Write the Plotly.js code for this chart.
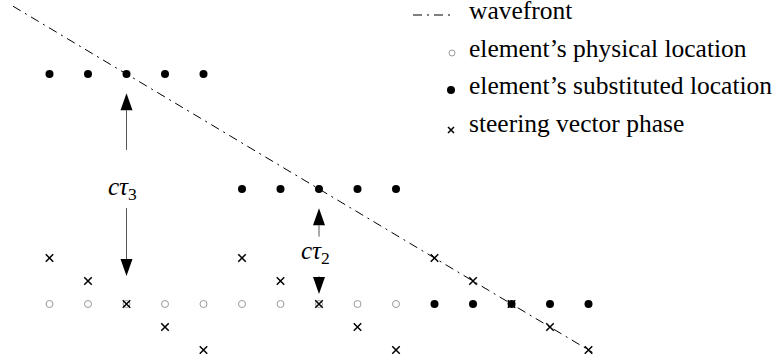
<!DOCTYPE html>
<html>
<head>
<meta charset="utf-8">
<script src="https://cdn.plot.ly/plotly-3.0.1.min.js"></script>
<style>html,body{margin:0;padding:0;background:#fff;}#chart{width:782px;height:362px;}</style>
</head>
<body>
<div id="chart"></div>
<script>
// ---- data (element index along the array, height in phase units) ----
var physX = [0, 1, 2, 3, 4, 5, 6, 7, 8, 9];
var physY = [0, 0, 0, 0, 0, 0, 0, 0, 0, 0];
var substX = [0, 1, 2, 3, 4, 5, 6, 7, 8, 9, 10, 11, 12, 13, 14];
var substY = [10, 10, 10, 10, 10, 5, 5, 5, 5, 5, 0, 0, 0, 0, 0];
var steerX = [0, 1, 2, 3, 4, 5, 6, 7, 8, 9, 10, 11, 12, 13, 14];
var steerY = [2, 1, 0, -1, -2, 2, 1, 0, -1, -2, 2, 1, 0, -1, -2];
var waveX = [-0.95, 14.1];
var waveY = [12.95, -2.1];
// delay arrows: x position, shaft start, arrow tip
var arrowX = [2, 2, 7, 7];
var arrowFrom = [6.7, 4.17, 2.93, 1.2];
var arrowTip = [9.16, 1.22, 4.16, 0.43];
var delayLabels = ['<i>cτ</i><sub>3</sub>', '<i>cτ</i><sub>2</sub>'];
var delayLabelX = [2, 7];
var delayLabelY = [5.04, 2.22];
var legendLabels = ['wavefront', 'element’s physical location', 'element’s substituted location', 'steering vector phase'];

var W = 782, H = 362;
var FONT = 'Liberation Serif';
var DASH = '9px,5px,2px,5px';

var traces = [
  {x: waveX, y: waveY, mode: 'lines', line: {color: '#000', width: 1, dash: DASH}, hoverinfo: 'skip'},
  {x: physX, y: physY, mode: 'markers', marker: {symbol: 'circle-open', size: 7, color: '#9a9a9a', line: {width: 1, color: '#9a9a9a'}}},
  {x: substX, y: substY, mode: 'markers', marker: {symbol: 'circle', size: 8, color: '#000'}},
  {x: steerX, y: steerY, mode: 'markers', marker: {symbol: 'x-thin', size: 7.5, color: '#000', line: {width: 1.5, color: '#000'}}}
];

var shapes = [];
var annotations = [];
var HEAD_L = 17, HEAD_W = 6;
for (var i = 0; i < arrowX.length; i++) {
  var up = arrowTip[i] > arrowFrom[i];
  var baseOff = HEAD_L / 23 * (up ? 1 : -1);
  var shaftEnd = arrowTip[i] - baseOff;
  if ((up && shaftEnd > arrowFrom[i]) || (!up && shaftEnd < arrowFrom[i])) {
    shapes.push({type: 'line', xref: 'x', yref: 'y', x0: arrowX[i], x1: arrowX[i], y0: arrowFrom[i], y1: shaftEnd,
      line: {color: '#555', width: 1}});
  }
  var s = up ? -1 : 1;
  shapes.push({type: 'path', xref: 'x', yref: 'y', xsizemode: 'pixel', ysizemode: 'pixel',
    xanchor: arrowX[i], yanchor: arrowTip[i],
    path: 'M0,0 L' + (-HEAD_W) + ',' + (s * HEAD_L) + ' L' + HEAD_W + ',' + (s * HEAD_L) + ' Z',
    fillcolor: '#000', line: {width: 0}});
}
for (var j = 0; j < delayLabels.length; j++) {
  annotations.push({x: delayLabelX[j], y: delayLabelY[j], xref: 'x', yref: 'y', text: delayLabels[j],
    showarrow: false, xshift: -4, font: {family: FONT, size: 25, color: '#000'}});
}

// ---- custom legend ----
function px(x) { return x / W; }
function py(y) { return 1 - y / H; }
var legTextY = [11, 48, 85, 123];
for (var k = 0; k < legendLabels.length; k++) {
  annotations.push({x: px(467), y: py(legTextY[k]), xref: 'paper', yref: 'paper', xanchor: 'left', yanchor: 'middle',
    text: legendLabels[k], showarrow: false, font: {family: FONT, size: 25.5, color: '#000'}});
}
shapes.push({type: 'line', xref: 'paper', yref: 'paper', x0: px(413), x1: px(455), y0: py(15), y1: py(15),
  line: {color: '#000', width: 1, dash: DASH}});
shapes.push({type: 'circle', xref: 'paper', yref: 'paper', xsizemode: 'pixel', ysizemode: 'pixel',
  xanchor: px(452), yanchor: py(53), x0: -3, x1: 3, y0: -3, y1: 3, line: {color: '#9a9a9a', width: 1}});
shapes.push({type: 'circle', xref: 'paper', yref: 'paper', xsizemode: 'pixel', ysizemode: 'pixel',
  xanchor: px(451), yanchor: py(90), x0: -4, x1: 4, y0: -4, y1: 4, fillcolor: '#000', line: {color: '#000', width: 0}});
shapes.push({type: 'path', xref: 'paper', yref: 'paper', xsizemode: 'pixel', ysizemode: 'pixel',
  xanchor: px(451), yanchor: py(130), path: 'M-3,-3 L3,3 M-3,3 L3,-3', line: {color: '#000', width: 1.5}});

var layout = {
  width: W, height: H, margin: {l: 0, r: 0, t: 0, b: 0},
  font: {family: FONT, color: '#000'},
  paper_bgcolor: '#fff', plot_bgcolor: '#fff', showlegend: false,
  xaxis: {range: [-49.5 / 38.5, (W - 49.5) / 38.5], visible: false, fixedrange: true},
  yaxis: {range: [-(H - 304) / 23, 304 / 23], visible: false, fixedrange: true},
  shapes: shapes, annotations: annotations
};
Plotly.newPlot('chart', traces, layout, {displayModeBar: false, staticPlot: true});
</script>
</body>
</html>
